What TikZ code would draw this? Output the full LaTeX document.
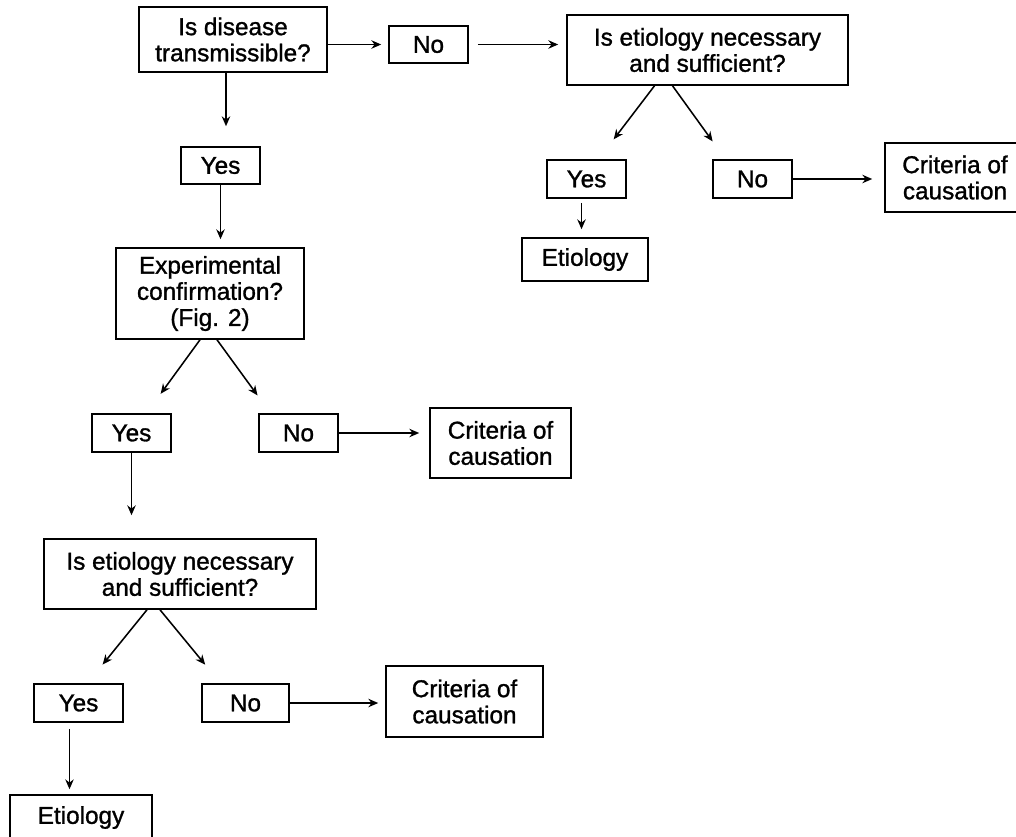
\documentclass[tikz,border=0pt]{standalone}
\usepackage{fontspec}
\setmainfont{Liberation Sans}[FakeBold=1.2]
\usetikzlibrary{positioning,arrows.meta}

\begin{document}
\begin{tikzpicture}[x=0.025cm,y=-0.025cm,
		box/.style={draw,line width=1.1pt,align=center,inner sep=0pt,font=\fontsize{17.3}{18.6}\selectfont},
		arr/.style={-{Stealth[length=7pt,width=6pt]},line width=1.1pt}]
			\useasboundingbox (0,0) rectangle (1016,836);
			\clip (0,0) rectangle (1016,836);
			
			% first question and the "no" branch on the right
			\node[box,minimum width=4.7cm,minimum height=1.625cm] (transm) at (233,39.5) {Is disease\\transmissible?};
			\node[box,minimum width=1.975cm,minimum height=0.925cm] (noA) at (428.5,44.5) {No};
			\node[box,minimum width=7.025cm,minimum height=1.75cm] (necA) at (707.5,50) {Is etiology necessary\\and sufficient?};
			\node[box,minimum width=1.975cm,minimum height=0.95cm] (yesD) at (586.5,179) {Yes};
			\node[box,minimum width=1.975cm,minimum height=0.95cm] (noD) at (752.5,179) {No};
			\node[box,minimum width=3.5cm,minimum height=1.725cm] (critD) at (955,177.5) {Criteria of\\causation};
			\node[box,minimum width=3.15cm,minimum height=1.075cm] (etioD) at (585,259.5) {Etiology};
			
			% "yes" branch going down
			\node[box,minimum width=1.975cm,minimum height=0.925cm] (yesA) at (220.5,165.5) {Yes};
			\node[box,minimum width=4.7cm,minimum height=2.275cm] (exper) at (210,293.5) {Experimental\\confirmation?\\(Fig. 2)};
			\node[box,minimum width=1.975cm,minimum height=0.95cm] (yesB) at (131.5,433) {Yes};
			\node[box,minimum width=1.975cm,minimum height=0.95cm] (noB) at (298.5,433) {No};
			\node[box,minimum width=3.525cm,minimum height=1.75cm] (critB) at (500.5,443) {Criteria of\\causation};
			\node[box,minimum width=6.8cm,minimum height=1.75cm] (necB) at (180,574) {Is etiology necessary\\and sufficient?};
			\node[box,minimum width=2.225cm,minimum height=0.95cm] (yesC) at (78.5,703) {Yes};
			\node[box,minimum width=2.175cm,minimum height=0.95cm] (noC) at (245.5,703) {No};
			\node[box,minimum width=3.925cm,minimum height=1.775cm] (critC) at (464.5,701.5) {Criteria of\\causation};
			\node[box,minimum width=3.55cm,minimum height=1.125cm] (etioC) at (81,817.5) {Etiology};
			
			\draw[arr,shorten >=0.175cm] (transm.east |- noA) -- (noA.west);
			\draw[arr,shorten <=0.225cm,shorten >=0.2cm] (noA.east) -- (noA -| necA.west);
			\draw[arr,shorten >=0.5cm] ([shift={(-7,0)}]transm.south) -- ([shift={(-7,0)}]transm.south |- yesA.north);
			\draw[arr,shorten >=0.625cm] ([shift={(-53,0)}]necA.south) -- ([shift={(12,0)}]yesD.north);
			\draw[arr,shorten >=0.55cm] ([shift={(-35,0)}]necA.south) -- ([shift={(-27,0)}]noD.north);
			\draw[arr,shorten >=0.3cm] (noD.east) -- (noD -| critD.west);
			\draw[arr,shorten <=0.1cm,shorten >=0.2cm] ([shift={(-5,0)}]yesD.south) -- ([shift={(-5,0)}]yesD.south |- etioD.north);
			
			\draw[arr,shorten >=0.2cm] (yesA.south) -- (yesA.south |- exper.north);
			\draw[arr,shorten >=0.6cm] ([shift={(-10,0)}]exper.south) -- ([shift={(15,0)}]yesB.north);
			\draw[arr,shorten >=0.55cm] ([shift={(7,0)}]exper.south) -- ([shift={(-28,0)}]noB.north);
			\draw[arr,shorten >=0.25cm] (noB.east) -- (noB -| critB.west);
			\draw[arr,shorten >=0.575cm] (yesB.south) -- (yesB.south |- necB.north);
			\draw[arr,shorten >=0.6cm] ([shift={(-33,0)}]necB.south) -- ([shift={(9,0)}]yesC.north);
			\draw[arr,shorten >=0.6cm] ([shift={(-20,0)}]necB.south) -- ([shift={(-25,0)}]noC.north);
			\draw[arr,shorten >=0.175cm] (noC.east) -- (noC -| critC.west);
			\draw[arr,shorten <=0.15cm,shorten >=0.125cm] ([shift={(-9,0)}]yesC.south) -- ([shift={(-9,0)}]yesC.south |- etioC.north);
		\end{tikzpicture}
\end{document}
